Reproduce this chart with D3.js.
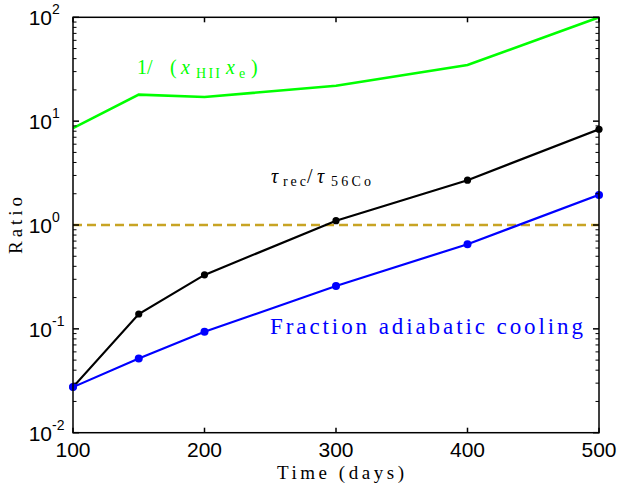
<!DOCTYPE html>
<html><head><meta charset="utf-8">
<script src="https://cdn.jsdelivr.net/npm/d3@7"></script>
<style>body{margin:0;background:#fff}svg{display:block}</style>
</head><body>
<svg id="c" width="619" height="488"></svg>
<script>
const days = [100, 150, 200, 300, 400, 500];
const invXhiiXe = [8.55, 18.0, 17.1, 21.9, 34.7, 100];
const tauRatio = [0.0275, 0.139, 0.331, 1.10, 2.70, 8.36];
const fracAdiabatic = [0.0275, 0.0518, 0.0936, 0.259, 0.653, 1.95];
const refLine = 1;
const xTicks = [100, 200, 300, 400, 500];
const yDecades = [-2, -1, 0, 1, 2];

const svg = d3.select("#c");
const L = 73, R = 599, T = 17.3, B = 432.7;
const x = d3.scaleLinear().domain([100, 500]).range([L, R]);
const y = d3.scaleLog().domain([0.01, 100]).range([B, T]);

svg.append("defs").append("clipPath").attr("id","clip").append("rect")
  .attr("x",L).attr("y",T).attr("width",R-L).attr("height",B-T);
const g = svg.append("g");

// reference dashed line
g.append("line").attr("x1",L).attr("x2",R).attr("y1",y(refLine)).attr("y2",y(refLine))
  .attr("stroke","#c8a424").attr("stroke-width",2.6).attr("stroke-dasharray","9,5");

const line = d3.line().x((d,i)=>x(days[i])).y(d=>y(d));
const pg = g.append("g").attr("clip-path","url(#clip)");
pg.append("path").datum(invXhiiXe).attr("d",line).attr("fill","none").attr("stroke","#00ff00").attr("stroke-width",2.6);
pg.append("path").datum(tauRatio).attr("d",line).attr("fill","none").attr("stroke","#000").attr("stroke-width",2.2);
pg.append("path").datum(fracAdiabatic).attr("d",line).attr("fill","none").attr("stroke","#0000ff").attr("stroke-width",2.2);
g.selectAll(".bd").data(tauRatio).enter().append("circle").attr("cx",(d,i)=>x(days[i])).attr("cy",d=>y(d)).attr("r",3.6).attr("fill","#000");
g.selectAll(".bl").data(fracAdiabatic).enter().append("circle").attr("cx",(d,i)=>x(days[i])).attr("cy",d=>y(d)).attr("r",4).attr("fill","#0000ff");

// axes box
const ax = svg.append("g").attr("stroke","#000").attr("stroke-width",1.5).attr("fill","none");
ax.append("rect").attr("x",L).attr("y",T).attr("width",R-L).attr("height",B-T);
xTicks.forEach(t=>{
  ax.append("line").attr("x1",x(t)).attr("x2",x(t)).attr("y1",B).attr("y2",B-5);
  ax.append("line").attr("x1",x(t)).attr("x2",x(t)).attr("y1",T).attr("y2",T+5);
});
yDecades.forEach(e=>{
  const v = Math.pow(10,e);
  ax.append("line").attr("x1",L).attr("x2",L+6).attr("y1",y(v)).attr("y2",y(v));
  ax.append("line").attr("x1",R).attr("x2",R-6).attr("y1",y(v)).attr("y2",y(v));
  if (e<2) for (let m=2;m<=9;m++){
    const vv=m*v;
    ax.append("line").attr("x1",L).attr("x2",L+3.5).attr("y1",y(vv)).attr("y2",y(vv)).attr("stroke-width",1);
    ax.append("line").attr("x1",R).attr("x2",R-3.5).attr("y1",y(vv)).attr("y2",y(vv)).attr("stroke-width",1);
  }
});

// tick labels
const tf = "Liberation Sans, Arial, sans-serif";
xTicks.forEach(t=>{
  svg.append("text").attr("x",x(t)).attr("y",457).attr("text-anchor","middle")
    .attr("font-family",tf).attr("font-size",21).text(t);
});
yDecades.forEach(e=>{
  svg.append("text").attr("x",52).attr("y",y(Math.pow(10,e))+8).attr("text-anchor","end")
    .attr("font-family",tf).attr("font-size",21).text("10");
  svg.append("text").attr("x",52).attr("y",y(Math.pow(10,e))-3).attr("text-anchor","start")
    .attr("font-family",tf).attr("font-size",14).text(e<0? "-"+(-e) : String(e));
});

// axis titles
const sf = "Liberation Serif, DejaVu Serif, serif";
svg.append("text").attr("x",277).attr("y",479).attr("font-family",sf).attr("font-size",19)
  .attr("textLength",127).attr("lengthAdjust","spacing").text("Time (days)");
svg.append("text").attr("transform","translate(22,254) rotate(-90)").attr("font-family",sf).attr("font-size",19)
  .attr("textLength",57).attr("lengthAdjust","spacing").text("Ratio");

// series labels
const gl = svg.append("text").attr("y",74).attr("font-family",sf).attr("font-size",20).attr("fill","#00ff00");
gl.append("tspan").attr("x",137).text("1/");
gl.append("tspan").attr("x",170).text("(");
gl.append("tspan").attr("x",181).attr("font-style","italic").text("x");
gl.append("tspan").attr("x",196).attr("font-size",14).attr("dy",4).attr("textLength",24).attr("lengthAdjust","spacing").text("HII");
gl.append("tspan").attr("x",226).attr("font-style","italic").attr("dy",-4).text("x");
gl.append("tspan").attr("x",239).attr("font-size",14).attr("dy",4).text("e");
gl.append("tspan").attr("x",251).attr("dy",-4).text(")");

const bl = svg.append("text").attr("y",183).attr("font-family",sf).attr("font-size",20).attr("fill","#000");
bl.append("tspan").attr("x",271).attr("font-style","italic").text("τ");
bl.append("tspan").attr("x",283).attr("font-size",14).attr("dy",3).attr("textLength",23).attr("lengthAdjust","spacing").text("rec");
bl.append("tspan").attr("x",307).attr("dy",-3).text("/");
bl.append("tspan").attr("x",317).attr("font-style","italic").text("τ");
bl.append("tspan").attr("x",331).attr("font-size",14).attr("dy",3).attr("textLength",40).attr("lengthAdjust","spacing").text("56Co");

svg.append("text").attr("x",270).attr("y",334).attr("font-family",sf).attr("font-size",23).attr("fill","#0000ff")
  .attr("textLength",313).attr("lengthAdjust","spacing").text("Fraction adiabatic cooling");
</script>
</body></html>
